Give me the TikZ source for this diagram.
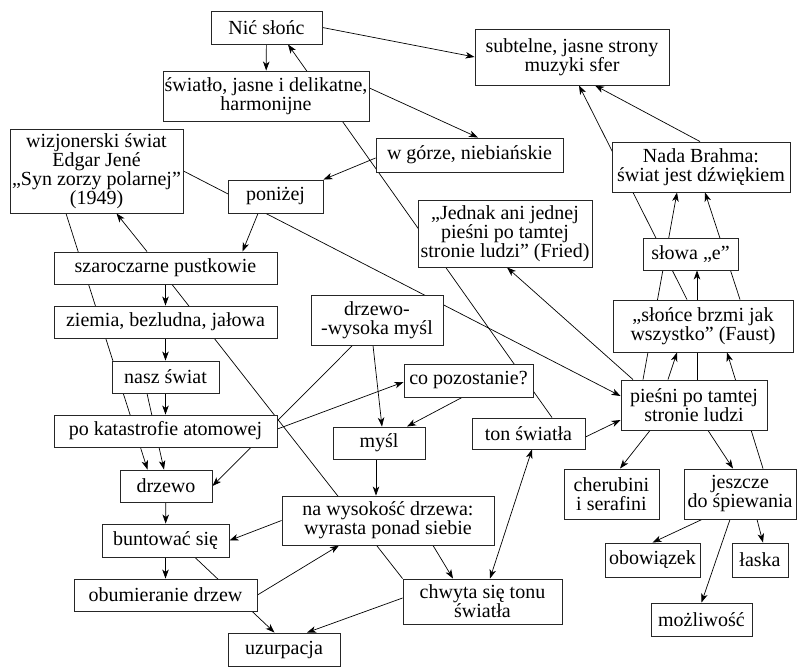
\documentclass[tikz,border=0pt]{standalone}
\usepackage{fontspec}
\setmainfont{Liberation Serif}
\usetikzlibrary{arrows.meta,backgrounds}
\newcommand\bx[6]{\node[box,minimum width=#4pt,minimum height=#5pt] (#1) at (#2,#3) {#6};}
\begin{document}
\begin{tikzpicture}[x=1pt,y=-1pt,
  box/.style={draw=black!85,line width=0.9pt,fill=white,inner sep=0pt,align=center,
    font=\fontsize{20}{19}\selectfont},
  ln/.style={line width=0.7pt,black},
  arr/.style={ln,-{Stealth[length=9pt,width=6.5pt,inset=2.5pt]}},
  arr2/.style={ln,{Stealth[length=9pt,width=6.5pt,inset=2.5pt]}-{Stealth[length=9pt,width=6.5pt,inset=2.5pt]}}]
\useasboundingbox (0,0) rectangle (797,666);
\bx{nic}{266.5}{27.5}{111}{33}{Nić słońc}
\bx{sub}{572}{57}{194}{56}{subtelne, jasne strony\\muzyki sfer}
\bx{swi}{266}{96}{206}{50}{światło, jasne i delikatne,\\harmonijne}
\bx{gor}{469.5}{155}{187}{34}{w górze, niebiańskie}
\bx{wiz}{96.5}{171}{173}{84}{wizjonerski świat\\Edgar Jené\\„Syn zorzy polarnej”\\(1949)}
\bx{pon}{275.5}{196.5}{95}{33}{poniżej}
\bx{nada}{701}{167}{178}{50}{Nada Brahma:\\świat jest dźwiękiem}
\bx{jed}{505}{233.5}{174}{67}{„Jednak ani jednej\\pieśni po tamtej\\stronie ludzi” (Fried)}
\bx{slo}{690.5}{254}{95}{32}{słowa „e”}
\bx{slon}{703}{326}{180}{52}{„słońce brzmi jak\\wszystko” (Faust)}
\bx{pies}{694}{405}{146}{50}{pieśni po tamtej\\stronie ludzi}
\bx{sza}{165.5}{268}{223}{32}{szaroczarne pustkowie}
\bx{zie}{165.5}{322}{223}{32}{ziemia, bezludna, jałowa}
\bx{nasz}{165.5}{377}{107}{32}{nasz świat}
\bx{pokat}{165.5}{431}{223}{32}{po katastrofie atomowej}
\bx{dwm}{377}{320}{132}{50}{drzewo-\\-wysoka myśl}
\bx{copoz}{468.5}{380.5}{129}{33}{co pozostanie?}
\bx{mysl}{379}{443}{92}{32}{myśl}
\bx{ton}{528.5}{433.5}{113}{31}{ton światła}
\bx{drz}{166}{486}{92}{32}{drzewo}
\bx{nawys}{388}{520.5}{212}{49}{na wysokość drzewa:\\wyrasta ponad siebie}
\bx{bunt}{165.5}{540.5}{127}{33}{buntować się}
\bx{obum}{165.5}{595}{183}{32}{obumieranie drzew}
\bx{uzur}{284}{649.5}{112}{33}{uzurpacja}
\bx{chw}{482.5}{601.5}{159}{45}{chwyta się tonu\\światła}
\bx{cher}{611.5}{494}{95}{50}{cherubini\\i serafini}
\bx{jesz}{740}{494}{112}{50}{jeszcze\\do śpiewania}
\bx{obow}{652.5}{560}{95}{34}{obowiązek}
\bx{laska}{760}{560}{56}{34}{łaska}
\bx{mozl}{701.5}{619.5}{101}{33}{możliwość}
\begin{pgfonlayer}{background}
\draw[arr] (nic) -- (swi);
\draw[arr] (nic.east) -- (sub.west);
\draw[arr] ([yshift=8pt]swi.east) -- ([xshift=8.5pt]gor.north);
\draw[arr] ([yshift=-3pt]gor.west) -- (pon.north east);
\draw[arr] ([xshift=23.5pt]ton.north) -- ([xshift=21.5pt]nic.south);
\draw[arr] (wiz.east) -- ([yshift=9pt]pies.west);
\draw[arr] ([xshift=-30.5pt]wiz.south) -- ([xshift=-18.5pt]drz.north);
\draw[arr] ([xshift=-18.5pt]sza.north) -- ([xshift=20pt]wiz.south);
\draw[arr] ([xshift=-17.5pt]pon.south) -- ([xshift=77pt]sza.north);
\draw[ln] ([xshift=6.5pt]sza.south) -- (chw.north west);
\draw[arr] (sza) -- (zie);
\draw[arr] (zie) -- (nasz);
\draw[arr] (nasz) -- (pokat);
\draw[arr] ([xshift=-18.5pt]nasz.south) -- ([xshift=-2pt]drz.north);
\draw[arr] ([xshift=-24.5pt]dwm.south) -- (drz.east);
\draw[arr] ([yshift=2pt]pokat.east) -- ([yshift=-1.5pt]copoz.west);
\draw[arr] ([xshift=-4pt]dwm.south) -- ([xshift=3pt]mysl.north);
\draw[arr] ([xshift=-6.5pt]copoz.south) -- ([xshift=28pt]mysl.north);
\draw[arr] ([xshift=-3pt]mysl.south) -- ([xshift=-12pt]nawys.north);
\draw[arr] (nawys.west) -- (bunt.east);
\draw[arr] (obum.east) -- ([xshift=-49pt]nawys.south);
\draw[arr] ([xshift=45pt]nawys.south) -- ([xshift=-29.5pt]chw.north);
\draw[arr2] ([xshift=7.5pt]chw.north) -- ([xshift=3.5pt]ton.south);
\draw[arr] ([yshift=3.5pt]chw.west) -- ([xshift=23pt]uzur.north);
\draw[arr] (drz) -- (bunt);
\draw[arr] (bunt) -- (obum);
\draw[arr] ([xshift=29.5pt]bunt.south) -- ([xshift=-9.5pt]uzur.north);
\draw[arr] ([xshift=-61pt]pies.north) -- ([xshift=2pt]jed.south);
\draw[arr] ([yshift=-3.5pt]ton.east) -- ([yshift=-15pt]pies.west);
\draw[arr] ([xshift=-44pt]pies.south) -- ([xshift=8.5pt]cher.north);
\draw[arr] ([xshift=14pt]pies.south) -- ([xshift=-7pt]jesz.north);
\draw[arr] ([xshift=-38pt]jesz.south) -- (obow.north);
\draw[arr] ([xshift=17pt]jesz.south) -- ([xshift=3pt]laska.north);
\draw[arr] ([xshift=-10pt]jesz.south) -- (mozl.north);
\draw[arr] ([xshift=23pt]jesz.north) -- ([xshift=24pt]slon.south);
\draw[arr] ([xshift=-26pt]pies.north) -- ([xshift=-26pt]slon.south);
\draw[arr] ([xshift=3pt]pies.north) -- ([xshift=6.5pt]slo.south);
\draw[arr] ([xshift=-51pt]pies.north) -- ([xshift=-24pt]nada.south);
\draw[arr] ([xshift=-16pt]slon.north) -- ([xshift=7pt]sub.south);
\draw[arr] ([xshift=37pt]slon.north) -- ([xshift=4pt]nada.south);
\draw[arr] ([xshift=-1pt]nada.north) -- ([xshift=23pt]sub.south);
\end{pgfonlayer}
\end{tikzpicture}
\end{document}
